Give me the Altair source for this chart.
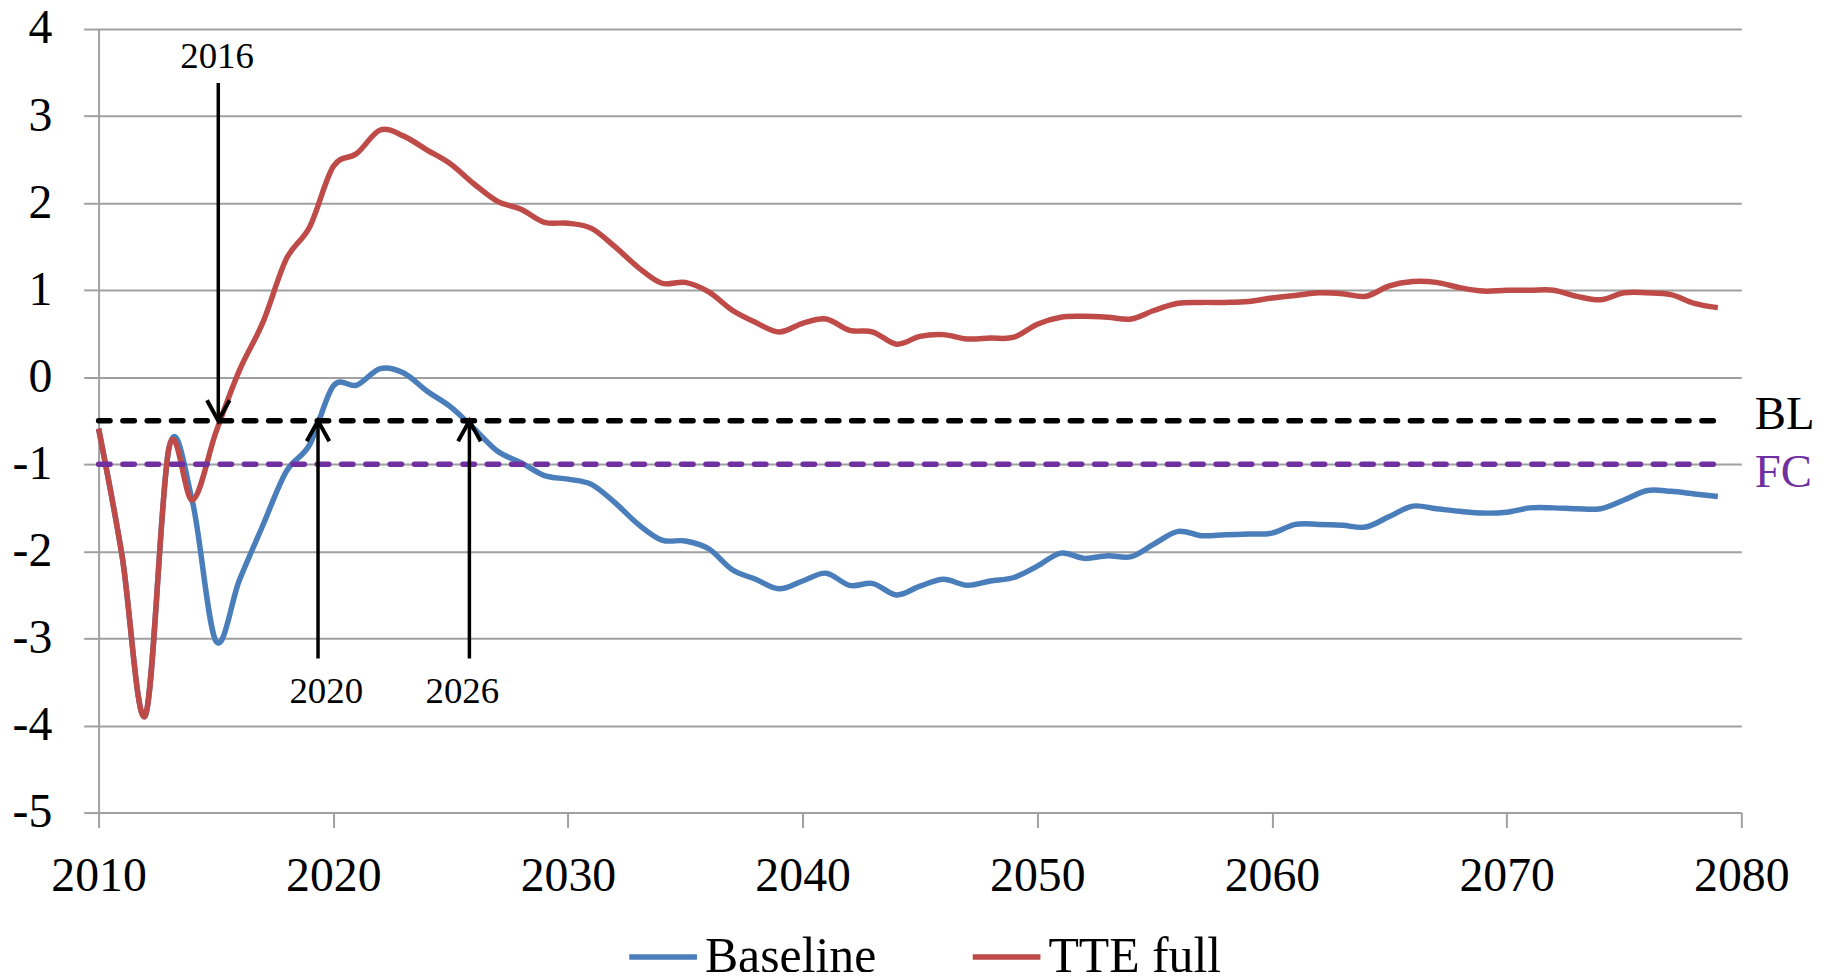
import altair as alt
import pandas as pd

# ---------------- data ----------------
years = list(range(2010, 2080))

baseline = [
    -0.59, -2.05, -3.88, -0.81, -1.43, -3.03, -2.33, -1.70, -1.08, -0.77,
    -0.10, -0.09, 0.10, 0.05, -0.16, -0.34, -0.59, -0.85, -0.98, -1.13,
    -1.17, -1.23, -1.44, -1.69, -1.87, -1.88, -1.97, -2.21, -2.32, -2.43,
    -2.34, -2.25, -2.39, -2.37, -2.50, -2.40, -2.32, -2.39, -2.34, -2.30,
    -2.17, -2.02, -2.08, -2.05, -2.06, -1.91, -1.77, -1.82, -1.81, -1.80,
    -1.79, -1.69, -1.69, -1.70, -1.72, -1.60, -1.48, -1.51, -1.54, -1.56,
    -1.55, -1.50, -1.50, -1.51, -1.51, -1.41, -1.30, -1.31, -1.34, -1.37,
]

tte_full = [
    -0.59, -2.05, -3.88, -0.81, -1.41, -0.63, 0.08, 0.63, 1.36, 1.73,
    2.42, 2.57, 2.84, 2.77, 2.61, 2.45, 2.22, 2.02, 1.93, 1.78,
    1.77, 1.71, 1.50, 1.26, 1.08, 1.09, 0.98, 0.77, 0.63, 0.52,
    0.62, 0.67, 0.54, 0.52, 0.38, 0.47, 0.49, 0.44, 0.45, 0.46,
    0.61, 0.69, 0.70, 0.69, 0.67, 0.77, 0.85, 0.86, 0.86, 0.87,
    0.91, 0.94, 0.97, 0.96, 0.93, 1.05, 1.10, 1.09, 1.03, 0.99,
    1.00, 1.00, 1.00, 0.93, 0.89, 0.97, 0.97, 0.95, 0.85, 0.80,
]

series_names = ["Baseline", "TTE full"]
series_colors = ["#4A7EBB", "#BE4B48"]

x_ticks = [2010, 2020, 2030, 2040, 2050, 2060, 2070, 2080]
y_ticks = [-5, -4, -3, -2, -1, 0, 1, 2, 3, 4]

ref_names = ["BL", "FC"]
ref_values = [-0.5, -1.0]
ref_colors = ["#000000", "#7030A0"]
ref_start = 2010
ref_end = 2079
ref_label_values = [-0.59, -1.26]

arrow_labels = ["2016", "2020", "2026"]
arrow_years = [2015.1, 2019.35, 2025.8]
arrow_from = [3.38, -3.23, -3.23]
arrow_to = [-0.5, -0.5, -0.5]
arrow_dirs = ["down", "up", "up"]
arrow_label_years = [2015.05, 2019.7, 2025.5]
arrow_label_values = [3.68, -3.61, -3.61]

# ---------------- tables ----------------
lines_df = pd.DataFrame({
    "year": years * 2,
    "value": baseline + tte_full,
    "series": [series_names[0]] * len(years) + [series_names[1]] * len(years),
})

ref_df = pd.DataFrame({
    "name": ref_names,
    "value": ref_values,
    "start": [ref_start] * len(ref_names),
    "end": [ref_end] * len(ref_names),
    "label_value": ref_label_values,
})

head_paths = {"down": "M -0.55 -1 L 0 0 L 0.55 -1", "up": "M -0.55 1 L 0 0 L 0.55 1"}
arrow_df = pd.DataFrame({
    "label": arrow_labels,
    "year": arrow_years,
    "from": arrow_from,
    "to": arrow_to,
    "head": [head_paths[d] for d in arrow_dirs],
    "label_year": arrow_label_years,
    "label_value": arrow_label_values,
})

FONT = "Liberation Serif"
GRAY = "#A0A0A0"

xscale = alt.Scale(domain=[2010, 2080], nice=False, zero=False)
yscale = alt.Scale(domain=[-5, 4], nice=False, zero=False)

x_axis = alt.Axis(
    values=x_ticks, format="d", title=None, grid=False,
    labelFont=FONT, labelFontSize=48, labelColor="black",
    labelFlush=False, labelOverlap=False, labelPadding=25,
    tickSize=15, tickColor=GRAY, tickWidth=2,
    domainColor=GRAY, domainWidth=2,
)
y_axis = alt.Axis(
    values=y_ticks, title=None, labelExpr="'' + datum.value",
    grid=True, gridColor=GRAY, gridWidth=2,
    labelFont=FONT, labelFontSize=48, labelColor="black",
    labelOverlap=False, labelPadding=32,
    tickSize=15, tickColor=GRAY, tickWidth=2,
    domainColor=GRAY, domainWidth=2,
)

lines = alt.Chart(lines_df).mark_line(
    interpolate="cardinal", strokeWidth=5.5
).encode(
    x=alt.X("year:Q", scale=xscale, axis=x_axis),
    y=alt.Y("value:Q", scale=yscale, axis=y_axis),
    color=alt.Color(
        "series:N",
        scale=alt.Scale(domain=series_names, range=series_colors),
        legend=alt.Legend(
            orient="none", legendX=530, legendY=895, direction="horizontal",
            title=None, padding=0,
            labelFont=FONT, labelFontSize=50, labelColor="black", labelLimit=0,
            symbolType="stroke", symbolSize=4624, symbolStrokeWidth=5.5,
            labelOffset=5, columnPadding=85,
        ),
    ),
)

layers = [lines]

for i, nm in enumerate(ref_names):
    sub = ref_df[ref_df["name"] == nm]
    rule = alt.Chart(sub).mark_rule(
        color=ref_colors[i], strokeWidth=5.5, strokeDash=[11.5, 12.9], strokeCap="round"
    ).encode(
        x=alt.X("start:Q", scale=xscale, title=None),
        x2="end:Q",
        y=alt.Y("value:Q", scale=yscale, title=None),
    )
    label = alt.Chart(sub).mark_text(
        font=FONT, fontSize=47, color=ref_colors[i], align="left",
        baseline="alphabetic", dx=37,
    ).encode(
        x=alt.X("end:Q", scale=xscale, title=None),
        y=alt.Y("label_value:Q", scale=yscale, title=None),
        text="name:N",
    )
    layers += [rule, label]

arrows = alt.Chart(arrow_df).mark_rule(color="black", strokeWidth=3.5).encode(
    x=alt.X("year:Q", scale=xscale, title=None),
    y=alt.Y("from:Q", scale=yscale, title=None),
    y2="to:Q",
)
heads = alt.Chart(arrow_df).mark_point(
    filled=False, color="black", strokeWidth=4, size=1700, opacity=1
).encode(
    x=alt.X("year:Q", scale=xscale, title=None),
    y=alt.Y("to:Q", scale=yscale, title=None),
    shape=alt.Shape("head:N", scale=None),
)
arrow_text = alt.Chart(arrow_df).mark_text(
    font=FONT, fontSize=37, color="black", align="center", baseline="middle"
).encode(
    x=alt.X("label_year:Q", scale=xscale, title=None),
    y=alt.Y("label_value:Q", scale=yscale, title=None),
    text="label:N",
)
layers += [arrows, heads, arrow_text]

chart = alt.layer(*layers).properties(
    width=1650,
    height=787,
    autosize=alt.AutoSizeParams(type="none"),
    padding={"left": 91, "top": 19, "right": 76, "bottom": 158},
    background="white",
).configure_view(stroke=None)

chart.save("out.html", embed_options={"renderer": "svg", "actions": False})
